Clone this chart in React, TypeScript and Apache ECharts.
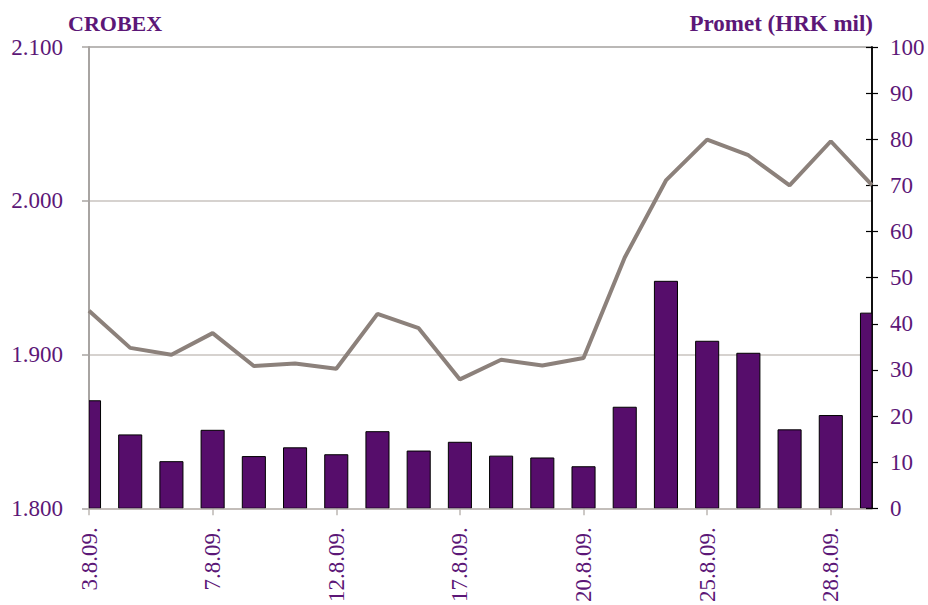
import React, { useEffect, useRef } from "react";
import * as echarts from "echarts";

const dates = [
  "3.8.09.", "4.8.09.", "6.8.09.", "7.8.09.", "10.8.09.", "11.8.09.", "12.8.09.",
  "13.8.09.", "14.8.09.", "17.8.09.", "18.8.09.", "19.8.09.", "20.8.09.", "21.8.09.",
  "24.8.09.", "25.8.09.", "26.8.09.", "27.8.09.", "28.8.09.", "31.8.09.",
];
const crobex = [
  1928.5, 1904.3, 1899.8, 1913.9, 1892.5, 1894.2, 1890.7, 1926.4, 1917.1, 1883.8,
  1896.6, 1892.9, 1897.7, 1963.1, 2013.2, 2039.8, 2029.6, 2010.0, 2038.7, 2010.2,
];
const promet = [
  23.3, 15.9, 10.1, 16.9, 11.2, 13.1, 11.6, 16.6, 12.4, 14.3,
  11.3, 10.9, 9.0, 21.9, 49.2, 36.2, 33.6, 17.0, 20.1, 42.3,
];
const leftTitle = "CROBEX";
const rightTitle = "Promet (HRK mil)";

const FONT = "Liberation Serif";
const PURPLE = "#5c1777";
const BAR_RATIO = 0.56;

export default function App() {
  const ref = useRef<HTMLDivElement>(null);
  useEffect(() => {
    if (!ref.current) return;
    const chart = echarts.init(ref.current, null, { renderer: "svg" });
    chart.setOption({
      animation: false,
      backgroundColor: "#ffffff",
      textStyle: { fontFamily: FONT },
      grid: { left: 89, right: 56, top: 47, bottom: 94, containLabel: false },
      graphic: [
        {
          type: "text",
          left: 68,
          top: 12,
          style: { text: leftTitle, fontFamily: FONT, fontWeight: "bold", fontSize: 22, fill: PURPLE },
        },
        {
          type: "text",
          right: 55,
          top: 12,
          style: { text: rightTitle, fontFamily: FONT, fontWeight: "bold", fontSize: 23, fill: PURPLE },
        },
      ],
      xAxis: {
        type: "category",
        data: dates,
        boundaryGap: false,
        axisLine: { show: true, lineStyle: { color: "#bdb7b3", width: 1.5 } },
        axisTick: { show: true, interval: 2, length: 7, lineStyle: { color: "#bdb7b3", width: 1.5 } },
        axisLabel: {
          interval: 2,
          rotate: 90,
          margin: 19,
          color: PURPLE,
          fontFamily: FONT,
          fontSize: 23,
        },
        splitLine: { show: false },
      },
      yAxis: [
        {
          type: "value",
          min: 1800,
          max: 2100,
          interval: 100,
          position: "left",
          axisLine: { show: true, lineStyle: { color: "#a8a4a2", width: 2 } },
          axisTick: { show: true, length: 7, lineStyle: { color: "#a8a4a2", width: 1.5 } },
          axisLabel: {
            margin: 26,
            color: PURPLE,
            fontFamily: FONT,
            fontSize: 23,
            formatter: (v: number) => (v / 1000).toFixed(3),
          },
          splitLine: {
            show: true,
            lineStyle: { color: ["#c9c3bf", "#c9c3bf", "#c9c3bf", "#a3a09e"], width: 1.5 },
          },
        },
        {
          type: "value",
          min: 0,
          max: 100,
          interval: 10,
          position: "right",
          axisLine: { show: true, lineStyle: { color: "#000000", width: 1.5 } },
          axisTick: { show: true, length: 6, lineStyle: { color: "#000000", width: 1.2 } },
          axisLabel: { margin: 18, color: PURPLE, fontFamily: FONT, fontSize: 23 },
          splitLine: { show: false },
        },
        {
          type: "value",
          min: 0,
          max: 100,
          interval: 10,
          position: "right",
          axisLine: { show: true, lineStyle: { color: "#000000", width: 1.5 } },
          axisTick: { show: true, inside: true, length: 6, lineStyle: { color: "#000000", width: 1.2 } },
          axisLabel: { show: false },
          splitLine: { show: false },
        },
      ],
      series: [
        {
          type: "custom",
          yAxisIndex: 1,
          encode: { x: 0, y: 1 },
          data: promet.map((v, i) => [i, v]),
          clip: true,
          z: 2,
          renderItem: (params: any, api: any) => {
            const idx = api.value(0);
            const val = api.value(1);
            const top = api.coord([idx, val]);
            const base = api.coord([idx, 0]);
            const band = api.size([1, 0])[0];
            const w = band * BAR_RATIO;
            const cs = params.coordSys;
            const shape = echarts.graphic.clipRectByRect(
              { x: top[0] - w / 2, y: top[1], width: w, height: base[1] - top[1] },
              { x: cs.x, y: cs.y, width: cs.width, height: cs.height }
            );
            if (!shape) return null;
            return {
              type: "rect",
              shape,
              style: { fill: "#560d6b", stroke: "#000000", lineWidth: 1 },
            };
          },
        },
        {
          type: "line",
          yAxisIndex: 0,
          data: crobex,
          symbol: "none",
          lineStyle: { color: "#8c817b", width: 4 },
          itemStyle: { color: "#8c817b" },
          z: 3,
        },
      ],
    });
    return () => chart.dispose();
  }, []);
  return <div ref={ref} style={{ width: 928, height: 605, position: "absolute", left: 0, top: 0 }} />;
}
